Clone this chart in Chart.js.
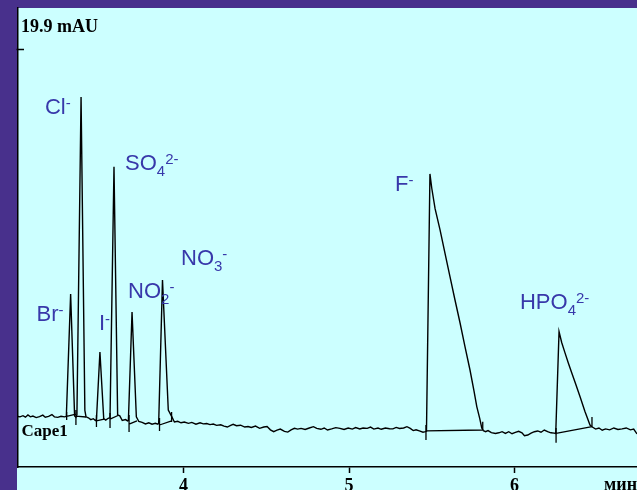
<!DOCTYPE html>
<html><head><meta charset="utf-8">
<script src="https://cdn.jsdelivr.net/npm/chart.js@4.4.1/dist/chart.umd.min.js"></script>
<style>html,body{margin:0;padding:0;background:#48308c;overflow:hidden}canvas{display:block}</style>
</head><body>
<canvas id="c" width="637" height="490"></canvas>
<script>
// ---- data (time in min, signal in mAU) ----
const traceTime = [
3.000,3.012,3.030,3.045,3.060,3.075,3.090,3.110,3.130,3.150,3.165,3.185,3.205,3.220,3.240,3.260,3.280,
3.292,3.318,3.342,3.350,3.356,3.381,3.404,3.411,3.425,3.440,3.455,3.468,
3.474,3.495,3.518,3.530,3.545,3.556,3.580,3.602,3.615,3.630,3.650,3.662,
3.667,3.689,3.715,3.730,3.750,3.770,3.790,3.810,3.830,3.845,3.850,3.873,3.908,3.929,
3.945,3.965,3.985,4.005,4.030,4.050,4.075,4.100,4.120,4.140,4.160,4.180,4.200,4.225,4.245,4.265,4.285,
4.300,4.320,4.345,4.370,4.390,4.410,4.435,4.460,4.485,4.505,4.525,4.545,4.565,4.585,4.610,4.630,4.650,
4.670,4.690,4.710,4.735,4.760,4.785,4.805,4.830,4.850,4.870,4.895,4.920,4.945,4.970,4.995,5.020,5.040,
5.065,5.085,5.110,5.130,5.150,5.175,5.195,5.220,5.245,5.265,5.285,5.305,5.330,5.350,5.370,5.388,5.405,
5.425,5.447,5.462,5.468,5.489,5.500,5.520,5.550,5.580,5.610,5.640,5.671,5.700,5.731,5.755,5.772,5.790,
5.802,5.812,5.825,5.840,5.860,5.885,5.905,5.925,5.945,5.965,5.985,6.005,6.025,6.045,6.060,6.080,6.100,
6.120,6.140,6.160,6.180,6.200,6.220,6.240,6.249,6.269,6.285,6.305,6.325,6.346,6.370,6.396,6.425,6.456,
6.470,6.490,6.510,6.530,6.550,6.575,6.600,6.625,6.650,6.675,6.700,6.720,6.740];
const traceSignal = [
0.12,0.10,0.16,0.08,0.20,0.10,0.14,0.06,0.11,0.19,0.08,0.12,0.22,0.10,0.07,0.13,0.10,
0.12,6.71,0.15,0.08,0.20,17.31,0.45,0.10,0.05,-0.05,0.00,-0.10,
-0.05,3.59,0.00,-0.08,0.02,0.05,13.55,0.20,0.15,-0.10,-0.05,-0.12,
-0.10,5.74,0.10,-0.15,-0.20,-0.28,-0.22,-0.30,-0.25,-0.30,-0.25,7.46,0.47,0.11,
-0.18,-0.14,-0.22,-0.18,-0.25,-0.20,-0.30,-0.22,-0.28,-0.26,-0.32,-0.29,-0.36,-0.33,-0.40,-0.45,-0.36,
-0.30,-0.38,-0.35,-0.45,-0.42,-0.47,-0.40,-0.52,-0.45,-0.42,-0.60,-0.70,-0.62,-0.56,-0.68,-0.72,-0.60,
-0.52,-0.56,-0.52,-0.58,-0.50,-0.43,-0.52,-0.57,-0.50,-0.61,-0.55,-0.48,-0.52,-0.58,-0.50,-0.56,-0.48,
-0.55,-0.50,-0.52,-0.45,-0.56,-0.50,-0.57,-0.50,-0.54,-0.55,-0.47,-0.53,-0.50,-0.43,-0.52,-0.64,-0.60,
-0.66,-0.73,-0.70,-0.68,13.17,12.40,11.30,10.16,8.90,7.64,6.40,5.15,3.90,2.62,1.50,0.65,0.00,
-0.50,-0.65,-0.70,-0.64,-0.75,-0.80,-0.76,-0.70,-0.79,-0.70,-0.81,-0.74,-0.68,-0.76,-0.92,-0.88,-0.78,
-0.70,-0.66,-0.73,-0.61,-0.70,-0.76,-0.78,-0.80,4.68,4.10,3.54,3.00,2.46,1.85,1.18,0.40,-0.34,
-0.45,-0.56,-0.50,-0.62,-0.55,-0.60,-0.50,-0.58,-0.55,-0.50,-0.60,-0.56,-0.82];
// integration baselines: [t1, v1, t2, v2]
const baselineSegments = [
[3.294,0.12,3.350,0.25],[3.350,0.14,3.411,0.09],[3.474,-0.12,3.520,-0.02],
[3.556,-0.02,3.604,0.17],[3.671,-0.29,3.719,-0.12],[3.855,-0.34,3.928,-0.12],
[5.465,-0.66,5.808,-0.61],[6.251,-0.79,6.468,-0.43]];
// peak start/end markers: [t, vTop, vBottom]
const peakMarkers = [
[3.294,0.36,-0.07],[3.350,0.47,-0.34],[3.474,0.20,-0.45],[3.556,0.31,-0.50],
[3.671,0.20,-0.72],[3.855,0.04,-0.66],[3.928,0.36,-0.18],[5.465,-0.34,-1.15],
[5.808,-0.16,-0.61],[6.251,-0.50,-1.29],[6.468,0.09,-0.43]];
const xTickValues = [4,5,6];
const xUnitLabel = 'мин';
const yFullScale = 19.9;
const yFullScaleLabel = '19.9 mAU';
const channelLabel = 'Cape1';
// ion labels: [text, kind]
const ionNames = [
 [['Br','n'],['-','sup']],
 [['Cl','n'],['-','sup']],
 [['I','n'],['-','sup']],
 [['SO','n'],['4','sub'],['2-','sup']],
 [['NO','n'],['2','sub'],['-','sup']],
 [['NO','n'],['3','sub'],['-','sup']],
 [['F','n'],['-','sup']],
 [['HPO','n'],['4','sub'],['2-','sup']]];

// ---- build datasets ----
const tracePts = traceTime.map((t,i)=>({x:t,y:traceSignal[i]}));
const markPts = [];
baselineSegments.forEach(s=>{markPts.push({x:s[0],y:s[1]},{x:s[2],y:s[3]},{x:s[2],y:null});});
peakMarkers.forEach(m=>{markPts.push({x:m[0],y:m[1]},{x:m[0],y:m[2]},{x:m[0],y:null});});

const PURPLE='#48308c', CYAN='#ccffff', LABEL='#3838aa';
const labelPlacement = [[3.112,5.28],[3.163,16.40],[3.489,4.77],[3.647,13.38],[3.665,6.50],[3.985,8.27],[5.278,12.23],[6.033,5.90]];

function drawChem(ctx,x0,y0,parts){
  let x=x0;
  for(const [txt,kind] of parts){
    if(kind==='n'){ctx.font='22px "Liberation Sans", Arial, sans-serif';ctx.fillText(txt,x,y0);}
    else if(kind==='sub'){ctx.font='15px "Liberation Sans", Arial, sans-serif';ctx.fillText(txt,x,y0+6);}
    else {ctx.font='15px "Liberation Sans", Arial, sans-serif';ctx.fillText(txt,x,y0-6);}
    x+=ctx.measureText(txt).width;
  }
}

const decor={
  id:'decor',
  beforeDraw(chart){
    const {ctx,chartArea:a,width,height}=chart;
    ctx.save();
    ctx.fillStyle=PURPLE;ctx.fillRect(0,0,width,height);
    ctx.fillStyle=CYAN;ctx.fillRect(a.left-1,a.top,width-(a.left-1),height-a.top);
    ctx.restore();
  },
  afterDraw(chart){
    const {ctx,chartArea:a,scales:{x,y}}=chart;
    ctx.save();
    const py=Math.round(y.getPixelForValue(yFullScale))+0.5;
    ctx.strokeStyle='#000';ctx.lineWidth=1.5;
    ctx.beginPath();ctx.moveTo(a.left-1.5,py);ctx.lineTo(a.left+6,py);ctx.stroke();
    ctx.fillStyle='#000';ctx.textBaseline='alphabetic';ctx.textAlign='left';
    ctx.font='bold 18px "Liberation Serif", "Times New Roman", serif';
    ctx.fillText(yFullScaleLabel,a.left+3,a.top+24);
    ctx.font='bold 17px "Liberation Serif", "Times New Roman", serif';
    ctx.fillText(channelLabel,a.left+3.5,a.bottom-31.5);
    ctx.font='bold 18px "Liberation Serif", "Times New Roman", serif';
    ctx.textAlign='right';
    ctx.fillText(xUnitLabel,a.right,a.bottom+23);
    ctx.textAlign='left';ctx.fillStyle=LABEL;
    ionNames.forEach((parts,i)=>{
      const [t,v]=labelPlacement[i];
      drawChem(ctx,x.getPixelForValue(t),y.getPixelForValue(v),parts);
    });
    ctx.restore();
  }
};

new Chart(document.getElementById('c').getContext('2d'),{
  type:'scatter',
  data:{datasets:[
    {data:tracePts,showLine:true,borderColor:'#000',borderWidth:1.4,pointRadius:0,spanGaps:false},
    {data:markPts,showLine:true,borderColor:'#000',borderWidth:1.3,pointRadius:0,spanGaps:false}
  ]},
  options:{
    responsive:false,animation:false,events:[],
    layout:{padding:{left:18,top:8,right:0,bottom:0}},
    plugins:{legend:{display:false},tooltip:{enabled:false}},
    scales:{
      x:{type:'linear',min:3,max:6.74,
        afterBuildTicks:s=>{s.ticks=xTickValues.map(v=>({value:v}));},
        afterFit:s=>{s.height=23;},
        grid:{drawOnChartArea:false,drawTicks:true,tickLength:6,tickColor:'#000',tickWidth:1.5},
        border:{display:true,color:'#000',width:1.5},
        ticks:{color:'#000',font:{family:'"Liberation Serif", "Times New Roman", serif',size:18,weight:'bold'},padding:3,maxRotation:0,autoSkip:false,callback:v=>String(v)}},
      y:{type:'linear',min:-2.6,max:22.1,
        afterFit:s=>{s.width=0;},
        grid:{display:false},ticks:{display:false},
        border:{display:true,color:'#000',width:1.5}}
    }
  },
  plugins:[decor]
});
</script>
</body></html>
